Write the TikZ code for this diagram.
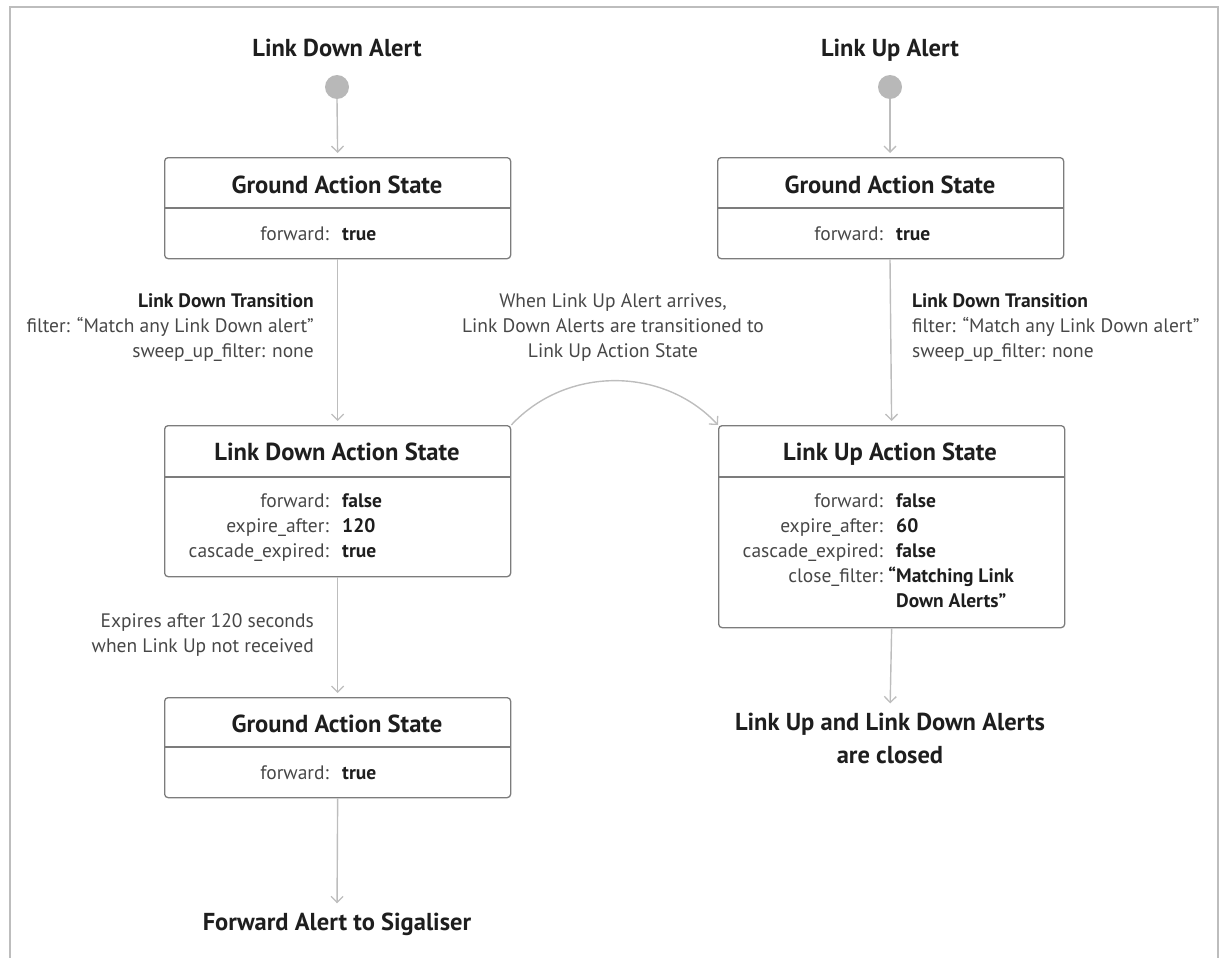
\documentclass[tikz,border=0pt]{standalone}
\usepackage{fontspec}
\setmainfont{PT Sans}
\usetikzlibrary{arrows.meta}
\definecolor{linec}{HTML}{BDBDBD}
\definecolor{boxc}{HTML}{7C7C7C}
\definecolor{txt}{HTML}{1E1E1E}
\definecolor{lbl}{HTML}{474747}
\definecolor{dotc}{HTML}{B8B8B8}
\begin{document}
\begin{tikzpicture}[x=1pt,y=-1pt,
  stbox/.style={draw=boxc, line width=1.3pt, rounded corners=3.5pt, minimum width=346pt, inner sep=0pt, anchor=north west},
  divider/.style={draw=boxc, line width=1.3pt},
  conn/.style={draw=linec, line width=1.4pt, -{Straight Barb[length=6pt,width=12pt,line width=1.3pt]}, shorten >=4pt},
  arcconn/.style={draw=linec, line width=1.4pt, -{Straight Barb[length=6pt,width=12pt,line width=1.3pt]}},
  title/.style={font=\fontsize{24.6}{28}\selectfont\bfseries, text=txt, inner sep=0pt, anchor=base},
  heading/.style={font=\fontsize{24.5}{33}\selectfont\bfseries, text=txt, inner sep=0pt},
  lab/.style={font=\fontsize{19.5}{25}\selectfont, text=lbl, inner sep=0pt, anchor=base east},
  val/.style={font=\fontsize{19.5}{25}\selectfont\bfseries, text=txt, inner sep=0pt, anchor=base west},
  note/.style={font=\fontsize{19.5}{25}\selectfont, text=lbl, inner sep=0pt},
  startdot/.style={circle, fill=dotc, minimum size=24pt, inner sep=0pt}
]
\useasboundingbox (0,0) rectangle (1219,958);
% outer frame (open at bottom)
\draw[draw=linec, line width=1.5pt] (10,958) -- (10,7) -- (1218,7) -- (1218,958);

% headings and start dots
\node[heading, anchor=base] (hdown) at (337,57) {Link Down Alert};
\node[heading, anchor=base] (hup) at (890,57) {Link Up Alert};
\node[startdot] (startd) at (337,87) {};
\node[startdot] (startu) at (890,87) {};

% Ground Action State (left top)
\node[stbox, minimum height=101pt] (gas1) at (164,157) {};
\draw[divider] (164,208) -- (510,208);
\node[title] (gas1t) at (337,193) {Ground Action State};
\node[lab] (gas1l) at (329,240) {forward:};
\node[val] (gas1v) at (342,240) {true};

% Ground Action State (right top)
\node[stbox, minimum height=101pt] (gas2) at (717,157) {};
\draw[divider] (717,208) -- (1063,208);
\node[title] (gas2t) at (890,193) {Ground Action State};
\node[lab] (gas2l) at (883,240) {forward:};
\node[val] (gas2v) at (896,240) {true};

% Link Down Action State
\node[stbox, minimum height=151pt] (ldas) at (164,425) {};
\draw[divider] (164,477) -- (510,477);
\node[title] (ldast) at (337,460.5) {Link Down Action State};
\node[lab] (ldasl) at (329,507) {\begin{tabular}[t]{@{}r@{}}forward:\\expire\_after:\\cascade\_expired:\end{tabular}};
\node[val] (ldasv) at (342,507) {\begin{tabular}[t]{@{}l@{}}false\\120\\true\end{tabular}};

% Link Up Action State
\node[stbox, minimum height=202pt] (luas) at (718,425) {};
\draw[divider] (718,477) -- (1064,477);
\node[title] (luast) at (890,460.5) {Link Up Action State};
\node[lab] (luasl) at (883,507) {\begin{tabular}[t]{@{}r@{}}forward:\\expire\_after:\\cascade\_expired:\\close\_filter:\end{tabular}};
\node[val] (luasv) at (896,507) {\begin{tabular}[t]{@{}l@{}}false\\60\\false\\\llap{“}Matching Link\\Down Alerts”\end{tabular}};

% Ground Action State (left bottom)
\node[stbox, minimum height=100pt] (gas3) at (164,697) {};
\draw[divider] (164,747) -- (510,747);
\node[title] (gas3t) at (337,732) {Ground Action State};
\node[lab] (gas3l) at (329,779) {forward:};
\node[val] (gas3v) at (342,779) {true};

% labels on transitions
\node[note, anchor=base east] (tdown) at (314,307) {\begin{tabular}[t]{@{}r@{}}\textbf{\color{txt}Link Down Transition}\\filter: “Match any Link Down alert”\\sweep\_up\_filter: none\end{tabular}};
\node[note, anchor=base] (tmid) at (613,307) {\begin{tabular}[t]{@{}c@{}}When Link Up Alert arrives,\\Link Down Alerts are transitioned to\\Link Up Action State\end{tabular}};
\node[note, anchor=base west] (tup) at (912,307) {\begin{tabular}[t]{@{}l@{}}\textbf{\color{txt}Link Down Transition}\\filter: “Match any Link Down alert”\\sweep\_up\_filter: none\end{tabular}};
\node[note, anchor=base east] (texp) at (314,627) {\begin{tabular}[t]{@{}r@{}}Expires after 120 seconds\\when Link Up not received\end{tabular}};

% end texts
\node[heading, anchor=base] (fwd) at (337,930) {Forward Alert to Sigaliser};
\node[heading, anchor=base, align=center] (closed) at (890,763) {Link Up and Link Down Alerts\\are closed};

% connectors
\draw[conn] (startd.south) -- (gas1.north);
\draw[conn] (startu.south) -- (gas2.north -| startu);
\draw[conn] (gas1.south) -- (ldas.north);
\draw[conn] (gas2.south -| startu) -- (luas.north);
\draw[conn] (ldas.south) -- (gas3.north);
\draw[conn, shorten >=9pt] (gas3.south) -- (fwd.north);
\draw[conn, shorten >=9pt] (luas.south) -- (closed.north);
\draw[arcconn] (ldas.north east) to[out=47,in=133] (luas.north west);
\end{tikzpicture}
\end{document}
